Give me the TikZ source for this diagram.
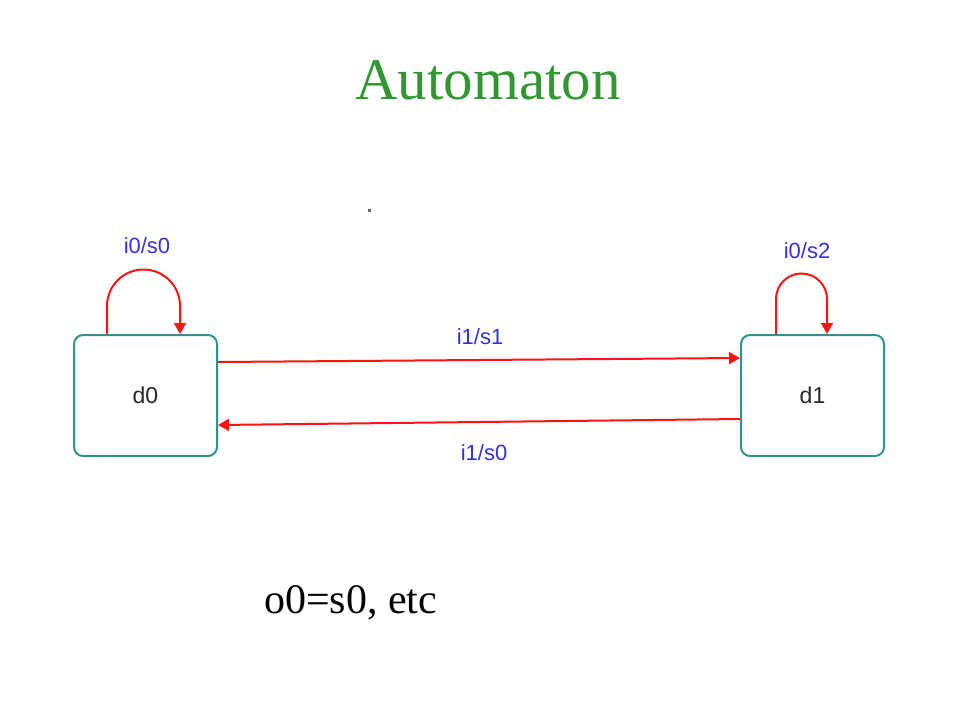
\documentclass[tikz,border=0pt]{standalone}
\usepackage{fontspec}
\setmainfont{Liberation Serif}
\newfontfamily\diagfont{Liberation Sans}
\usetikzlibrary{arrows.meta}
\definecolor{teal1}{RGB}{40,150,140}
\definecolor{red1}{RGB}{250,20,20}
\definecolor{blue1}{RGB}{50,50,225}
\definecolor{green1}{RGB}{50,150,50}
\tikzset{
  statebox/.style={draw=teal1, line width=2pt, rounded corners=9pt, minimum width=143pt, minimum height=121pt, inner sep=0pt, font=\diagfont\fontsize{23}{27}\selectfont, text=black!85},
  trans/.style={draw=red1, line width=2pt, -{Triangle[length=11pt,width=12pt]}},
  lbl/.style={text=blue1, font=\diagfont\fontsize{22}{26}\selectfont, inner sep=0pt}
}
\begin{document}
\begin{tikzpicture}[x=1pt,y=-1pt]
\useasboundingbox (0,0) rectangle (960,720);
\node[text=green1, font=\fontsize{59}{66}\selectfont, inner sep=0pt] (title) at (488,80) {Automaton};
\fill[black!60] (368,209) rectangle (370.5,211.5);
\node[statebox] (d0) at (145.5,395.5) {d0};
\node[statebox] (d1) at (812.5,395.5) {d1};
% self loops
\draw[trans] ([xshift=34pt]d0.north west) -- ++(0,-28) arc[start angle=180, end angle=360, radius=36.5] -- ([xshift=107pt]d0.north west);
\draw[trans] ([xshift=36pt]d1.north west) -- ++(0,-35) arc[start angle=180, end angle=360, radius=25.5] -- ([xshift=87pt]d1.north west);
% transitions
\draw[trans] ([yshift=33.5pt]d0.east) -- ([yshift=37.5pt]d1.west);
\draw[trans] ([yshift=-23.5pt]d1.west) -- ([yshift=-29.5pt]d0.east);
% labels
\node[lbl] (l1) at (147,246) {i0/s0};
\node[lbl] (l2) at (807,251) {i0/s2};
\node[lbl] (l3) at (480,337) {i1/s1};
\node[lbl] (l4) at (484,453) {i1/s0};
\node[font=\fontsize{42}{48}\selectfont, inner sep=0pt, anchor=base west] (note) at (264,613) {o0=s0, etc};
\end{tikzpicture}
\end{document}
